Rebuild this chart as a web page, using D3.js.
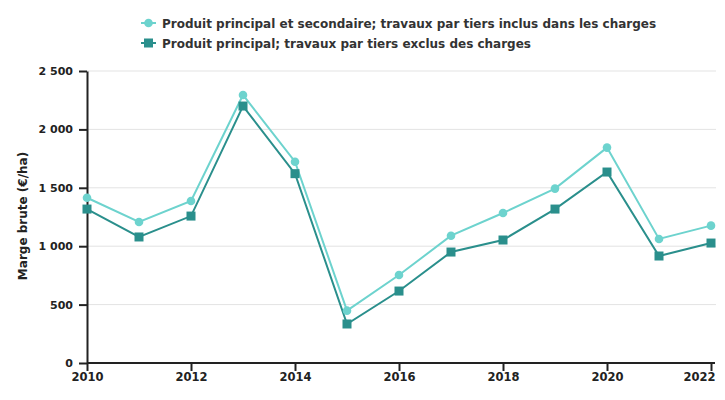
<!DOCTYPE html>
<html><head><meta charset="utf-8">
<script src="https://cdn.jsdelivr.net/npm/d3@7"></script>
<style>body{margin:0;background:#fff;font-family:"DejaVu Sans",sans-serif;}</style>
</head><body><svg id="c" width="725" height="400"></svg>
<script>
const years = [2010,2011,2012,2013,2014,2015,2016,2017,2018,2019,2020,2021,2022];
const seriesNames = ["Produit principal et secondaire; travaux par tiers inclus dans les charges","Produit principal; travaux par tiers exclus des charges"];
const inclus = [1415,1207,1387,2295,1723,448,753,1090,1284,1493,1844,1062,1176];
const exclus = [1318,1079,1258,2200,1621,334,616,950,1053,1318,1635,916,1027];
const yTicks = [0,500,1000,1500,2000,2500];
const xTicks = [2010,2012,2014,2016,2018,2020,2022];
const colors = ["#6dd3ce","#2a8f8c"];

const svg = d3.select("#c");
const m = {l:87,r:711,t:71,b:363};
const x = d3.scaleLinear().domain([2010,2022]).range([m.l,m.r]);
const y = d3.scaleLinear().domain([0,2500]).range([m.b,m.t]);
const fmt = v => d3.format(",")(v).replace(/,/g," ");

svg.append("g").selectAll("line").data(yTicks.filter(d=>d>0)).join("line")
  .attr("x1",m.l).attr("x2",716).attr("y1",d=>y(d)).attr("y2",d=>y(d))
  .attr("stroke","#e3e3e3").attr("stroke-width",1);

const yAxis = svg.append("g").attr("transform",`translate(${m.l},0)`)
  .call(d3.axisLeft(y).tickValues(yTicks).tickFormat(fmt).tickSize(8).tickSizeOuter(0));
yAxis.select(".domain").attr("stroke","#222").attr("stroke-width",2);
yAxis.selectAll(".tick line").attr("stroke","#222").attr("stroke-width",2);
yAxis.selectAll("text").attr("font-family","DejaVu Sans").attr("font-weight","bold").attr("font-size",11).attr("fill","#222").attr("x",-14);

const xAxis = svg.append("g").attr("transform",`translate(0,${m.b})`)
  .call(d3.axisBottom(x).tickValues(xTicks).tickFormat(d3.format("d")).tickSize(8).tickSizeOuter(0));
xAxis.select(".domain").attr("stroke","#222").attr("stroke-width",2).attr("d",`M${m.l},0H715`);
xAxis.selectAll(".tick line").attr("stroke","#222").attr("stroke-width",2);
xAxis.selectAll("text").attr("font-family","DejaVu Sans").attr("font-weight","bold").attr("font-size",11.5).attr("fill","#222").attr("y",10);
xAxis.selectAll(".tick").filter(d=>d===2022).select("text").attr("text-anchor","end").attr("x",4);

svg.append("text").attr("transform","translate(27,216) rotate(-90)").attr("text-anchor","middle")
  .attr("font-weight","bold").attr("font-size",12).attr("fill","#222").text("Marge brute (€/ha)");

const data = [inclus, exclus];
const line = d3.line().x((d,i)=>x(years[i])).y(d=>y(d));
data.forEach((s,k)=>{
  svg.append("path").datum(s).attr("d",line).attr("fill","none").attr("stroke",colors[k]).attr("stroke-width",2);
});
svg.append("g").selectAll("circle").data(inclus).join("circle")
  .attr("cx",(d,i)=>x(years[i])).attr("cy",d=>y(d)).attr("r",4.3).attr("fill",colors[0]);
svg.append("g").selectAll("rect").data(exclus).join("rect")
  .attr("x",(d,i)=>x(years[i])-4.5).attr("y",d=>y(d)-4.5).attr("width",9).attr("height",9).attr("fill",colors[1]);

const lg = svg.append("g");
seriesNames.forEach((n,k)=>{
  const yy = 23 + k*20;
  lg.append("line").attr("x1",141).attr("x2",156).attr("y1",yy).attr("y2",yy).attr("stroke",colors[k]).attr("stroke-width",2);
  if(k===0) lg.append("circle").attr("cx",148.5).attr("cy",yy).attr("r",4.3).attr("fill",colors[k]);
  else lg.append("rect").attr("x",144).attr("y",yy-4.5).attr("width",9).attr("height",9).attr("fill",colors[k]);
  lg.append("text").attr("x",162).attr("y",yy+4.5).attr("font-weight","bold").attr("font-size",12).attr("fill","#333").text(n);
});
</script></body></html>
